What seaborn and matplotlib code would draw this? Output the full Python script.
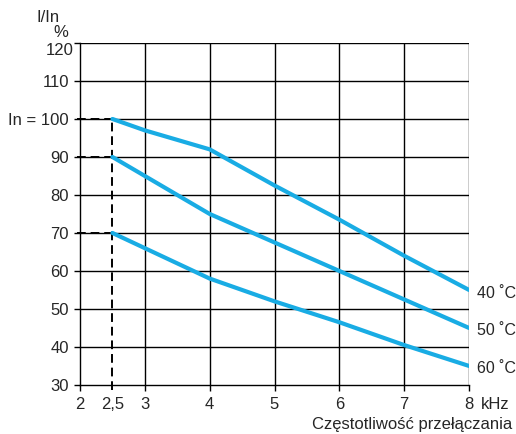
import matplotlib
matplotlib.use("Agg")
import matplotlib.pyplot as plt
import seaborn as sns
import pandas as pd

# derating curves
freq_40 = [2.5, 3, 4, 5, 6, 7, 8]
curr_40 = [100, 97, 92, 82.5, 73.5, 64, 55]
freq_50 = [2.5, 3, 4, 5, 6, 7, 8]
curr_50 = [90, 85, 75, 67.5, 60, 52.5, 45]
freq_60 = [2.5, 3, 4, 5, 6, 7, 8]
curr_60 = [70, 66, 58, 52, 46.5, 40.5, 35]
temps = ["40 ˚C", "50 ˚C", "60 ˚C"]

x_ticks = [2, 2.5, 3, 4, 5, 6, 7, 8]
x_labels = ["2", "2,5", "3", "4", "5", "6", "7", "8"]
y_ticks = [30, 40, 50, 60, 70, 80, 90, 100, 110, 120]
y_labels = ["30", "40", "50", "60", "70", "80", "90", "In = 100", "110", ""]
marked = [100, 90, 70]

df = pd.concat([
    pd.DataFrame({"f": freq_40, "I": curr_40, "T": temps[0]}),
    pd.DataFrame({"f": freq_50, "I": curr_50, "T": temps[1]}),
    pd.DataFrame({"f": freq_60, "I": curr_60, "T": temps[2]}),
])

sns.set_style("white")
plt.rcParams["font.family"] = ["Liberation Sans", "DejaVu Sans"]
fs = 12

fig = plt.figure(figsize=(5.16, 4.34), dpi=100)
ax = fig.add_axes([0.155, 0.113, 0.754, 0.788])

# grid
for x in [3, 4, 5, 6, 7, 8]:
    ax.axvline(x, color="black", lw=1, zorder=1)
for y in y_ticks[1:]:
    ax.axhline(y, color="black", lw=1, zorder=1)

# dashed marks for 2.5 kHz
for y in marked:
    ax.plot([1.96, 2.5], [y, y], color="black", lw=1.4, ls=(0, (4.5, 2.5)),
            clip_on=False, zorder=2)
ax.plot([2.5, 2.5], [28.6, 100], color="black", lw=1.4, ls=(0, (4.5, 2.5)),
        clip_on=False, zorder=2)

sns.lineplot(data=df, x="f", y="I", units="T", estimator=None,
             color="#19ace4", lw=3, ax=ax, legend=False, zorder=3)

for t, vals in zip(temps, [curr_40, curr_50, curr_60]):
    ax.text(8.12, vals[-1] - 0.8, t, fontsize=11.5, va="center", ha="left")

ax.set_xlim(2, 8)
ax.set_ylim(30, 120)
ax.set_xticks(x_ticks)
ax.set_xticklabels(x_labels, fontsize=fs)
ax.set_yticks(y_ticks)
ax.set_yticklabels(y_labels, fontsize=fs)
ax.tick_params(direction="out", length=4, width=1, color="black", pad=5,
               bottom=True, left=True)
ax.tick_params(axis="y", pad=4)
ax.xaxis.get_major_ticks()[1].tick1line.set_visible(False)
for s in ["top", "right"]:
    ax.spines[s].set_visible(False)
for s in ["left", "bottom"]:
    ax.spines[s].set_color("black")
    ax.spines[s].set_linewidth(1)
ax.set_xlabel("")
ax.set_ylabel("")

# top label sits a bit lower than its grid line
ax.text(1.9, 118.0, "120", fontsize=fs, ha="right", va="center")

fig.text(0.093, 0.959, "I/In", fontsize=fs, ha="center", va="center")
fig.text(0.118, 0.926, "%", fontsize=fs, ha="center", va="center")
fig.text(0.96, 0.067, "kHz", fontsize=fs, ha="center", va="center")
fig.text(0.992, 0.021, "Częstotliwość przełączania", fontsize=fs,
         ha="right", va="center")

fig.savefig("out.png", dpi=100)
